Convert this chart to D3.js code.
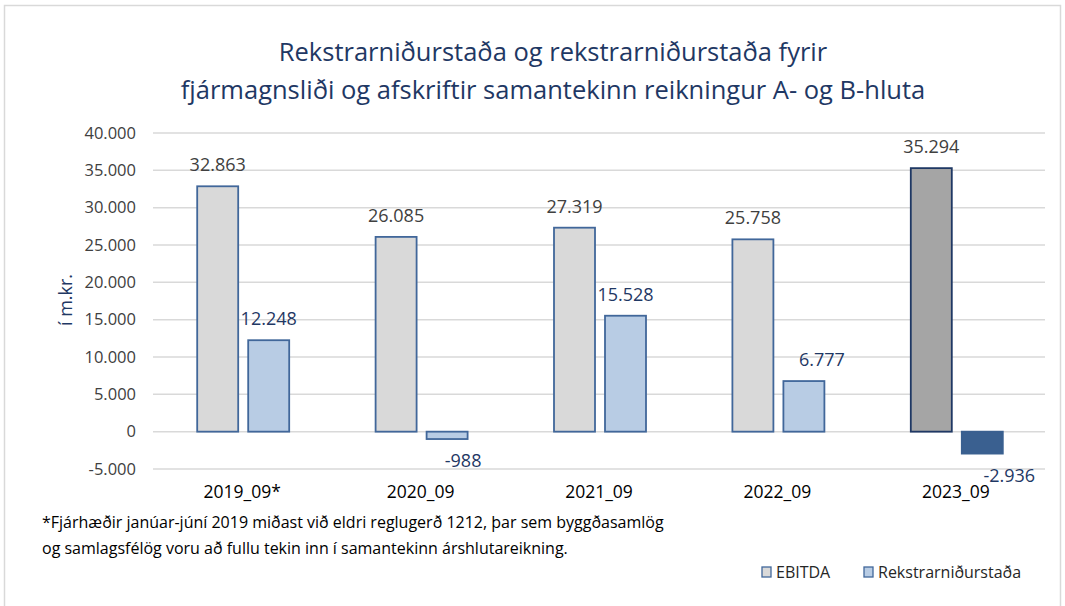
<!DOCTYPE html>
<html>
<head>
<meta charset="utf-8">
<script src="https://cdn.jsdelivr.net/npm/d3@7"></script>
<style>
  body { margin: 0; background: #fff; }
  svg { display: block; font-family: "Open Sans", "Noto Sans", sans-serif; }
</style>
</head>
<body>
<div id="chart"></div>
<script>
const categories = ["2019_09*", "2020_09", "2021_09", "2022_09", "2023_09"];
const ebitda = [32863, 26085, 27319, 25758, 35294];
const rekstrar = [12248, -988, 15528, 6777, -2936];
const seriesNames = ["EBITDA", "Rekstrarniðurstaða"];
const yTicks = [-5000, 0, 5000, 10000, 15000, 20000, 25000, 30000, 35000, 40000];
const titleLines = [
  "Rekstrarniðurstaða og rekstrarniðurstaða fyrir",
  "fjármagnsliði og afskriftir samantekinn reikningur A- og B-hluta"
];
const footnote = [
  "*Fjárhæðir janúar-júní 2019 miðast við eldri reglugerð 1212, þar sem byggðasamlög",
  "og samlagsfélög voru að fullu tekin inn í samantekinn árshlutareikning."
];

const width = 1065, height = 606;
const margin = { top: 133, right: 20, bottom: 137, left: 153 };

const fmt = v => {
  const s = Math.abs(v).toString().replace(/\B(?=(\d{3})+(?!\d))/g, ".");
  return (v < 0 ? "-" : "") + s;
};

const navy = "#1F3864";
const textGray = "#404040";

const svg = d3.select("#chart").append("svg")
  .attr("width", width)
  .attr("height", height);

// outer frame
svg.append("rect")
  .attr("x", 4.5).attr("y", 5.5)
  .attr("width", width - 9).attr("height", height + 20)
  .attr("fill", "none").attr("stroke", "#D9D9D9").attr("stroke-width", 1.5);

// title
svg.append("g").selectAll("text")
  .data(titleLines)
  .join("text")
  .attr("x", 553)
  .attr("y", (d, i) => 61 + i * 38)
  .attr("text-anchor", "middle")
  .attr("fill", navy)
  .style("font-size", "25.5px")
  .text(d => d);

const x = d3.scaleBand()
  .domain(categories)
  .range([margin.left, width - margin.right]);

const y = d3.scaleLinear()
  .domain([-5000, 40000])
  .range([469, 133]);

// gridlines
svg.append("g").selectAll("line")
  .data(yTicks)
  .join("line")
  .attr("x1", x.range()[0]).attr("x2", x.range()[1])
  .attr("y1", d => y(d)).attr("y2", d => y(d))
  .attr("stroke", "#D9D9D9").attr("stroke-width", 1.5);

// y axis labels
const yAxis = svg.append("g")
  .attr("transform", `translate(${margin.left - 17},0)`)
  .call(d3.axisLeft(y).tickValues(yTicks).tickSize(0).tickPadding(0).tickFormat(fmt));
yAxis.select(".domain").remove();
yAxis.selectAll("text")
  .attr("fill", textGray)
  .style("font-size", "16.5px")
  .style("font-family", "'Open Sans', sans-serif");

// y axis title
svg.append("text")
  .attr("transform", "translate(72,300) rotate(-90)")
  .attr("text-anchor", "middle")
  .attr("fill", navy)
  .style("font-size", "18px")
  .text("í m.kr.");

// x axis labels
const xAxis = svg.append("g")
  .attr("transform", "translate(0,486)")
  .call(d3.axisBottom(x).tickSize(0).tickPadding(0));
xAxis.select(".domain").remove();
xAxis.selectAll("text")
  .attr("fill", "#000")
  .style("font-size", "17.5px")
  .style("font-family", "'Open Sans', sans-serif");

const barW = 41, gap = 10;
const groupOffset = 1;
// sideways nudge of the Rekstrarniðurstaða labels, as placed in the original
const rekLabelDx = [0, 16, 0, 18, 27];

const rows = categories.map((c, i) => ({ cat: c, e: ebitda[i], r: rekstrar[i], i, last: i === categories.length - 1 }));

const bars = svg.append("g");
// EBITDA bars
bars.selectAll(".eb")
  .data(rows)
  .join("rect")
  .attr("class", "eb")
  .attr("x", d => x(d.cat) + x.bandwidth() / 2 + groupOffset - gap / 2 - barW)
  .attr("y", d => y(Math.max(0, d.e)))
  .attr("width", barW)
  .attr("height", d => Math.abs(y(d.e) - y(0)))
  .attr("fill", d => d.last ? "#A5A5A5" : "#D9D9D9")
  .attr("stroke", d => d.last ? "#1F3864" : "#41679A")
  .attr("stroke-width", 1.8);

// Rekstrarniðurstaða bars
bars.selectAll(".rk")
  .data(rows)
  .join("rect")
  .attr("class", "rk")
  .attr("x", d => x(d.cat) + x.bandwidth() / 2 + groupOffset + gap / 2)
  .attr("y", d => y(Math.max(0, d.r)))
  .attr("width", barW)
  .attr("height", d => Math.abs(y(d.r) - y(0)))
  .attr("fill", d => d.last ? "#3A6090" : "#B8CCE4")
  .attr("stroke", d => d.last ? "#3A6090" : "#41679A")
  .attr("stroke-width", 1.8);

// labels
const labels = svg.append("g").style("font-size", "18px");
labels.selectAll(".lab-e")
  .data(rows)
  .join("text")
  .attr("x", d => x(d.cat) + x.bandwidth() / 2 + groupOffset - gap / 2 - barW / 2)
  .attr("y", d => y(d.e) - 15)
  .attr("text-anchor", "middle")
  .attr("fill", textGray)
  .text(d => fmt(d.e));

labels.selectAll(".lab-r")
  .data(rows)
  .join("text")
  .attr("x", d => x(d.cat) + x.bandwidth() / 2 + groupOffset + gap / 2 + barW / 2 + rekLabelDx[d.i])
  .attr("y", d => d.r < 0 ? y(d.r) + 28 : y(d.r) - 15)
  .attr("text-anchor", "middle")
  .attr("fill", navy)
  .text(d => fmt(d.r));

// footnote
svg.append("g").selectAll("text")
  .data(footnote)
  .join("text")
  .attr("x", 42)
  .attr("y", (d, i) => 528 + i * 26)
  .attr("fill", "#000")
  .style("font-size", "16px")
  .text(d => d);

// legend
const legend = svg.append("g").attr("transform", "translate(762,572)");
const legendX = [0, 102];
const legendFill = ["#D9D9D9", "#B8CCE4"];
const lg = legend.selectAll("g")
  .data(seriesNames)
  .join("g")
  .attr("transform", (d, i) => `translate(${legendX[i]},0)`);
lg.append("rect")
  .attr("x", 0).attr("y", -5)
  .attr("width", 9).attr("height", 10)
  .attr("fill", (d, i) => legendFill[i])
  .attr("stroke", "#41679A").attr("stroke-width", 1.3);
lg.append("text")
  .attr("x", 14).attr("y", 6)
  .attr("fill", "#262626")
  .style("font-size", "16px")
  .text(d => d);
</script>
</body>
</html>
